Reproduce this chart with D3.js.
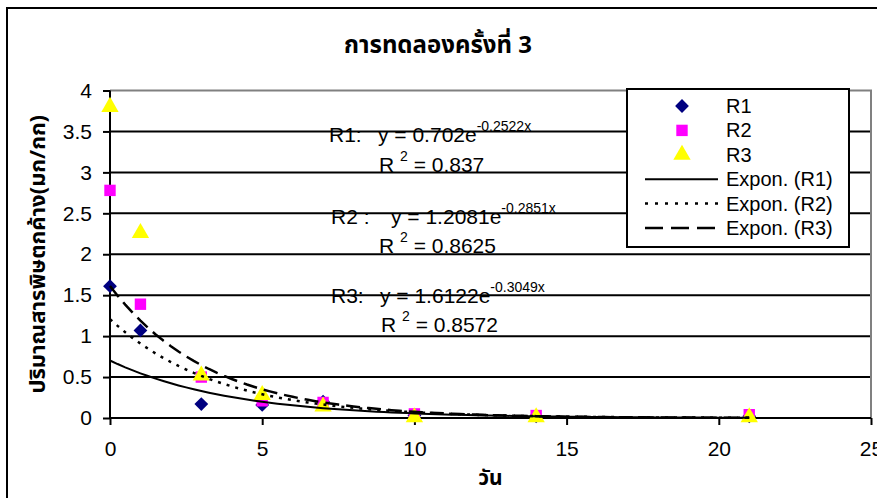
<!DOCTYPE html>
<html>
<head>
<meta charset="utf-8">
<script src="https://cdn.jsdelivr.net/npm/d3@7"></script>
<style>
    body { margin: 0; background: #fff; }
    text { font-family: "Liberation Sans", Arial, sans-serif; fill: #000; }
    .thai { font-family: "Noto Sans Thai", "Noto Sans", "DejaVu Sans", sans-serif; font-weight: bold; }
</style>
</head>
<body>
<div id="chart"></div>
<script>
// data
const days = [0, 1, 3, 5, 7, 10, 14, 21];
const r1 = [1.61, 1.07, 0.17, 0.16, 0.20, 0.03, 0.02, 0.02];
const r2 = [2.78, 1.39, 0.50, 0.21, 0.19, 0.05, 0.03, 0.04];
const r3 = [3.80, 2.26, 0.52, 0.28, 0.14, 0.01, 0.01, 0.01];
const seriesNames = ['R1', 'R2', 'R3'];
// exponential trendline coefficients (y = a e^(b x)) as printed on the chart
const fitA = [0.702, 1.2081, 1.6122];
const fitB = [-0.2522, -0.2851, -0.3049];
const fitAText = ['0.702', '1.2081', '1.6122'];
const fitBText = ['-0.2522x', '-0.2851x', '-0.3049x'];
const fitR2 = ['0.837', '0.8625', '0.8572'];
const xTicks = [0, 5, 10, 15, 20, 25];
const yTicks = [0, 0.5, 1, 1.5, 2, 2.5, 3, 3.5, 4];

function ExpChart() {
    this.init();
}

ExpChart.prototype.init = function() {
    let vis = this;

    vis.svgWidth = 877;
    vis.svgHeight = 498;
    vis.margin = { left: 110, right: 6, top: 90.5, bottom: 80 };
    vis.width = vis.svgWidth - vis.margin.left - vis.margin.right;
    vis.height = vis.svgHeight - vis.margin.top - vis.margin.bottom;

    vis.svg = d3.select('#chart').append('svg')
        .attr('width', vis.svgWidth)
        .attr('height', vis.svgHeight);

    // outer chart border (right and bottom run off the picture)
    vis.svg.append('rect')
        .attr('x', 7).attr('y', 8)
        .attr('width', 900).attr('height', 520)
        .attr('fill', '#fff')
        .attr('stroke', '#000')
        .attr('stroke-width', 2);

    vis.g = vis.svg.append('g')
        .attr('transform', `translate(${vis.margin.left},${vis.margin.top})`);

    vis.x = d3.scaleLinear().domain([0, 25]).range([0, vis.width]);
    vis.y = d3.scaleLinear().domain([0, 4]).range([vis.height, 0]);
}

ExpChart.prototype.update = function() {
    let vis = this;

    // title
    vis.svg.append('text')
        .attr('class', 'thai')
        .attr('x', 438)
        .attr('y', 53)
        .attr('text-anchor', 'middle')
        .style('font-size', '24px')
        .text('การทดลองครั้งที่ 3');

    // gridlines
    vis.g.selectAll('.grid')
        .data(yTicks.filter(d => d > 0 && d < 4))
        .enter().append('line')
        .attr('class', 'grid')
        .attr('x1', 0).attr('x2', vis.width)
        .attr('y1', d => vis.y(d)).attr('y2', d => vis.y(d))
        .attr('stroke', '#000')
        .attr('stroke-width', 2);

    // plot area border top / right
    vis.g.append('path')
        .attr('d', `M0,${vis.y(4)}H${vis.width}V${vis.height}`)
        .attr('fill', 'none')
        .attr('stroke', '#808080')
        .attr('stroke-width', 2);

    // axes
    let yAxis = d3.axisLeft(vis.y).tickValues(yTicks).tickSize(7).tickPadding(11)
        .tickFormat(d3.format('~g'));
    let xAxis = d3.axisBottom(vis.x).tickValues(xTicks).tickSize(7).tickPadding(16);

    let ya = vis.g.append('g').call(yAxis);
    let xa = vis.g.append('g').attr('transform', `translate(0,${vis.height})`).call(xAxis);
    [ya, xa].forEach(a => {
        a.select('.domain').attr('stroke', '#000').attr('stroke-width', 2);
        a.selectAll('.tick line').attr('stroke', '#000').attr('stroke-width', 2);
        a.selectAll('.tick text')
            .style('font-family', '"Liberation Sans", Arial, sans-serif')
            .style('font-size', '21px')
            .attr('fill', '#000');
    });
    ya.select('.domain').attr('d', `M0,0V${vis.height}`);
    xa.select('.domain').attr('d', `M0,0H${vis.width}`);

    // axis titles
    vis.svg.append('text')
        .attr('class', 'thai')
        .attr('transform', `translate(45,${vis.margin.top + vis.height / 2}) rotate(-90)`)
        .attr('text-anchor', 'middle')
        .style('font-size', '22px')
        .text('ปริมาณสารพิษตกค้าง(มก/กก)');

    vis.svg.append('text')
        .attr('class', 'thai')
        .attr('x', vis.margin.left + vis.width / 2)
        .attr('y', 485)
        .attr('text-anchor', 'middle')
        .style('font-size', '21px')
        .text('วัน');

    // markers
    let seriesVals = [r1, r2, r3];
    let colors = ['#000080', '#ff00ff', '#ffff00'];
    let shapes = [d3.symbolSquare, d3.symbolSquare, d3.symbolTriangle];
    let sizes = [95, 130, 130];
    let rot = [45, 0, 0];

    seriesVals.forEach((vals, s) => {
        vis.g.selectAll('.pt' + s)
            .data(days.map((d, i) => [d, vals[i]]))
            .enter().append('path')
            .attr('class', 'pt' + s)
            .attr('d', d3.symbol().type(shapes[s]).size(sizes[s]))
            .attr('transform', d => `translate(${vis.x(d[0])},${vis.y(d[1])}) rotate(${rot[s]})`)
            .attr('fill', colors[s]);
    });

    // trendlines
    let dashes = [null, '3,6', '14,7'];
    let widths = [2, 2.5, 2.5];
    let line = d3.line().x(d => vis.x(d[0])).y(d => vis.y(d[1]));
    fitA.forEach((a, s) => {
        let pts = d3.range(0, 21.01, 0.25).map(t => [t, a * Math.exp(fitB[s] * t)]);
        vis.g.append('path')
            .attr('d', line(pts))
            .attr('fill', 'none')
            .attr('stroke', '#000')
            .attr('stroke-width', widths[s])
            .attr('stroke-dasharray', dashes[s]);
    });

    // equation labels
    let eqPos = [[329, 142, 378], [331, 224, 391], [331, 303, 380]];
    let r2Pos = [[379, 172], [379, 253], [381, 332]];
    eqPos.forEach((p, s) => {
        let t = vis.svg.append('text').style('font-size', '21px');
        t.append('tspan').attr('x', p[0]).attr('y', p[1]).text(seriesNames[s] + (s == 1 ? ' :' : ':'));
        t.append('tspan').attr('x', p[2]).attr('y', p[1]).text('y = ' + fitAText[s] + 'e');
        t.append('tspan').attr('dy', -11).style('font-size', '14px').text(fitBText[s]);

        let r = vis.svg.append('text').style('font-size', '21px');
        r.append('tspan').attr('x', r2Pos[s][0]).attr('y', r2Pos[s][1]).text('R ');
        r.append('tspan').attr('dy', -11).style('font-size', '14px').text('2');
        r.append('tspan').attr('dy', 11).text(' = ' + fitR2[s]);
    });

    // legend
    let lg = vis.svg.append('g').attr('transform', 'translate(627,89)');
    lg.append('rect')
        .attr('width', 222).attr('height', 158)
        .attr('fill', '#fff')
        .attr('stroke', '#000')
        .attr('stroke-width', 2);

    let rowY = d3.range(6).map(i => 17 + i * 24.4);
    seriesNames.forEach((n, s) => {
        lg.append('path')
            .attr('d', d3.symbol().type(shapes[s]).size(sizes[s]))
            .attr('transform', `translate(55,${rowY[s]}) rotate(${rot[s]})`)
            .attr('fill', colors[s]);
    });
    let legDashes = [null, '3,7', '18,8'];
    seriesNames.forEach((n, s) => {
        lg.append('line')
            .attr('x1', 18).attr('x2', 91)
            .attr('y1', rowY[s + 3]).attr('y2', rowY[s + 3])
            .attr('stroke', '#000')
            .attr('stroke-width', widths[s])
            .attr('stroke-dasharray', legDashes[s]);
    });
    let labels = seriesNames.concat(seriesNames.map(n => 'Expon. (' + n + ')'));
    lg.selectAll('.lt')
        .data(labels)
        .enter().append('text')
        .attr('class', 'lt')
        .attr('x', 99)
        .attr('y', (d, i) => rowY[i] + 7)
        .style('font-size', '20px')
        .text(d => d);
}

let chart = new ExpChart();
chart.update();
</script>
</body>
</html>
